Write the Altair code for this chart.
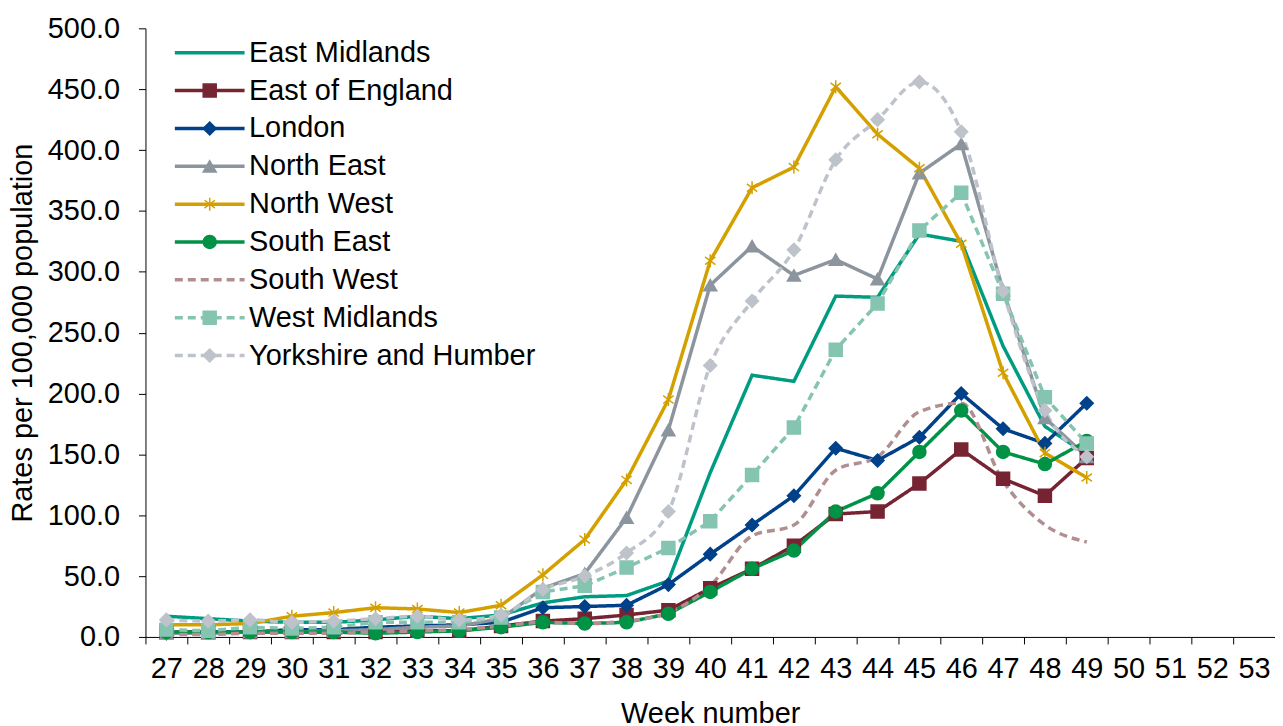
import altair as alt
import pandas as pd

weeks = list(range(27, 50))
all_weeks = list(range(27, 54))
regions = ["East Midlands", "East of England", "London", "North East", "North West",
           "South East", "South West", "West Midlands", "Yorkshire and Humber"]

east_midlands = [17, 15, 13, 12, 12, 14, 17, 15, 18, 28, 33, 34, 46, 135, 215, 210, 280, 279, 331, 325, 239, 173, 150]
east_of_england = [4, 4, 4, 4, 4, 4, 5, 5, 9, 13, 15, 18, 22, 40, 56, 75, 101, 103, 126, 154, 130, 116, 147]
london = [3, 4, 4, 6, 6, 8, 9, 10, 12, 24, 25, 26, 43, 68, 92, 116, 155, 145, 164, 200, 171, 159, 192]
north_east = [3, 3, 4, 4, 5, 6, 8, 9, 15, 40, 52, 98, 170, 289, 321, 297, 310, 294, 381, 405, 285, 180, 148]
north_west = [10, 10, 11, 17, 20, 24, 23, 20, 26, 51, 80, 129, 195, 309, 369, 386, 452, 413, 385, 323, 217, 151, 131]
south_east = [4, 4, 4, 4, 4, 3, 4, 5, 8, 12, 11, 12, 19, 37, 56, 71, 103, 118, 152, 186, 152, 142, 161]
south_west = [2, 2, 3, 3, 3, 4, 5, 6, 9, 12, 11, 13, 20, 42, 83, 92, 137, 148, 185, 192, 128, 92, 78]
west_midlands = [6, 5, 8, 7, 8, 12, 12, 12, 16, 37, 42, 57, 73, 95, 133, 172, 236, 274, 334, 365, 282, 197, 159]
yorkshire = [14, 13, 14, 12, 13, 15, 17, 14, 18, 39, 50, 69, 103, 223, 276, 318, 392, 425, 456, 415, 284, 186, 148]

series = [east_midlands, east_of_england, london, north_east, north_west,
          south_east, south_west, west_midlands, yorkshire]

colors = ["#009C82", "#772432", "#004189", "#8C959D", "#D4A000",
          "#009245", "#B18E91", "#85C4B0", "#BEC3CB"]
dashes = [[1, 0], [1, 0], [1, 0], [1, 0], [1, 0], [1, 0], [8, 5], [8, 5], [8, 5]]
asterisk = "M0,-1L0,1M-0.8,-0.6L0.8,0.6M-0.8,0.6L0.8,-0.6"
shapes = ["M0,0", "square", "diamond", "triangle-up", asterisk,
          "circle", "M0,0", "square", "diamond"]
smooth_regions = ["South West", "Yorkshire and Humber"]
no_marker = ["East Midlands", "South West"]

# marker-legend keys (distinct domain so the two legends are not merged)
regions_m = [r + " (marker)" for r in regions]

rows = []
for r, rm, vals in zip(regions, regions_m, series):
    for w, v in zip(weeks, vals):
        rows.append({"week": w, "rate": v, "region": r, "region_m": rm})
df = pd.DataFrame(rows)

FONT = "Liberation Sans"
FS = 29
LW = 3.5

x_enc = alt.X("week:O", scale=alt.Scale(type="band", domain=all_weeks, paddingInner=0, paddingOuter=0),
              axis=alt.Axis(title="Week number", labelAngle=0, tickBand="extent", tickSize=7,
                            labelPadding=11, titlePadding=16, domainColor="black", tickColor="black",
                            labelColor="black", titleColor="black", labelFontSize=FS, titleFontSize=FS,
                            titleFontWeight="normal", grid=False))
y_enc = alt.Y("rate:Q", scale=alt.Scale(domain=[0, 500], nice=False),
              axis=alt.Axis(title="Rates per 100,000 population", values=list(range(0, 501, 50)),
                            format=".1f", tickSize=7, labelPadding=19, titlePadding=10,
                            domainColor="black", tickColor="black", labelColor="black",
                            titleColor="black", labelFontSize=FS, titleFontSize=FS,
                            titleFontWeight="normal", grid=False))

# long horizontal stroke symbol drawn from a small nominal size, so rows stay compact
legend_a = alt.Legend(title=None, orient="none", legendX=50, legendY=10, symbolType="M-5,0H5",
                      symbolSize=196, symbolStrokeWidth=LW, symbolFillColor="transparent",
                      labelFontSize=FS, labelOffset=25,
                      labelColor="black", rowPadding=8, padding=0, labelLimit=500)
color_enc = alt.Color("region:N", scale=alt.Scale(domain=regions, range=colors), legend=legend_a)
dash_enc = alt.StrokeDash("region:N", scale=alt.Scale(domain=regions, range=dashes), legend=legend_a)

line_lin = alt.Chart(df).transform_filter(
    alt.FieldOneOfPredicate(field="region", oneOf=[r for r in regions if r not in smooth_regions])
).mark_line(strokeWidth=LW).encode(x=x_enc, y=y_enc, color=color_enc, strokeDash=dash_enc)

line_smooth = alt.Chart(df).transform_filter(
    alt.FieldOneOfPredicate(field="region", oneOf=smooth_regions)
).mark_line(strokeWidth=LW, interpolate="monotone").encode(x=x_enc, y=y_enc, color=color_enc, strokeDash=dash_enc)

legend_b = alt.Legend(title=None, orient="none", legendX=50, legendY=10, symbolSize=170,
                      symbolStrokeWidth=1.5, labelFontSize=FS, labelOffset=7, labelOpacity=0,
                      rowPadding=8, padding=0, labelLimit=500)
fill_enc = alt.Fill("region_m:N", scale=alt.Scale(domain=regions_m, range=colors), legend=legend_b)
stroke_enc = alt.Stroke("region_m:N", scale=alt.Scale(domain=regions_m, range=colors), legend=legend_b)
shape_enc = alt.Shape("region_m:N", scale=alt.Scale(domain=regions_m, range=shapes), legend=legend_b)

points = alt.Chart(df).transform_filter(
    alt.FieldOneOfPredicate(field="region", oneOf=[r for r in regions if r not in no_marker])
).mark_point(filled=True, size=170, strokeWidth=1.5, opacity=1).encode(
    x=x_enc, y=y_enc, fill=fill_enc, stroke=stroke_enc, shape=shape_enc)

chart = alt.layer(line_lin, line_smooth, points).properties(
    width=1134, height=611,
    autosize=alt.AutoSizeParams(type="none"),
    padding={"left": 138, "top": 19, "right": 0, "bottom": 88},
).configure(font=FONT).configure_view(stroke=None).configure_axis(labelFont=FONT, titleFont=FONT)

chart.save("out.html", embed_options={"renderer": "svg", "actions": False})
